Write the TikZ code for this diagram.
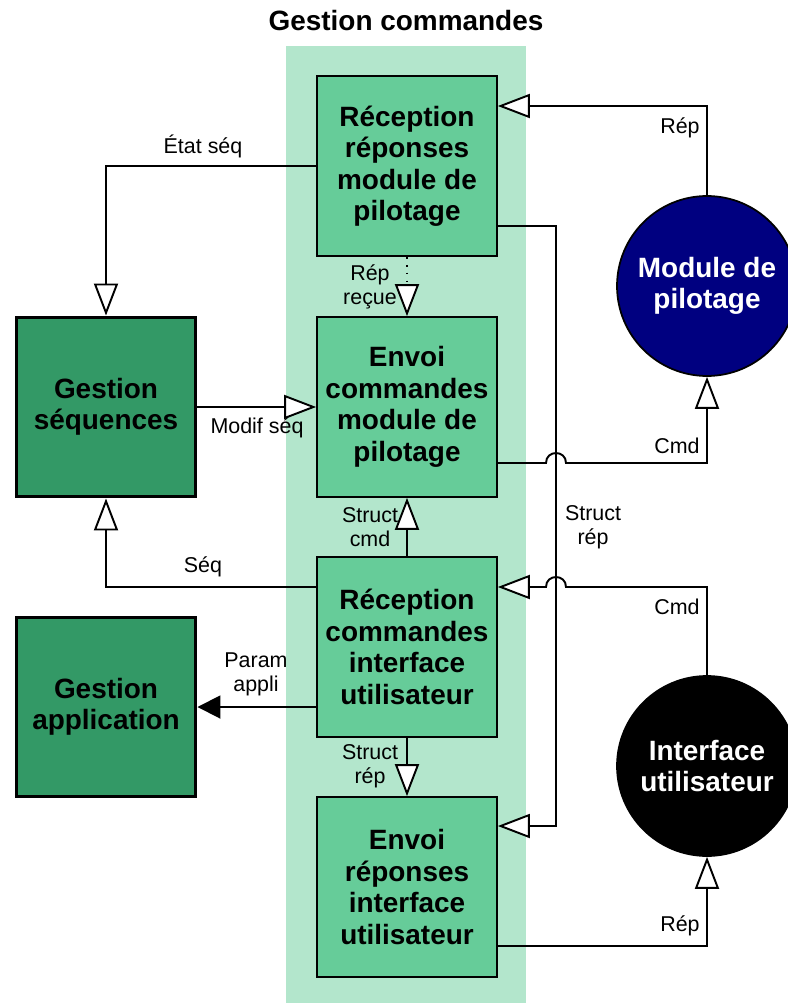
\documentclass[tikz,border=0pt]{standalone}
\usepackage{fontspec}
\setmainfont{Liberation Sans}
\usetikzlibrary{arrows.meta,calc,positioning}
\definecolor{vertfond}{RGB}{179,230,204}
\definecolor{vertbloc}{RGB}{102,204,153}
\definecolor{vertfonce}{RGB}{51,153,102}
\definecolor{marine}{RGB}{0,0,128}

\begin{document}
\begin{tikzpicture}[x=0.02cm,y=-0.02cm,
		bloc/.style={draw=black,line width=1pt,fill=vertbloc,minimum width=3.6cm,minimum height=3.6cm,align=center,inner sep=0pt,font=\bfseries\fontsize{15.9}{17.9}\selectfont},
		gestion/.style={bloc,fill=vertfonce,line width=1.7pt},
		rond/.style={circle,draw=black,line width=1pt,minimum size=3.6cm,align=center,text=white,font=\bfseries\fontsize{15.9}{17.9}\selectfont},
		fleche/.style={line width=1.1pt,-{Triangle[length=0.64cm,width=0.48cm,fill=white]}},
		pleine/.style={line width=1.1pt,-{Triangle[length=0.46cm,width=0.46cm]}},
		lbl/.style={align=center,inner sep=0pt,font=\fontsize{12.2}{13.6}\selectfont}]
		\useasboundingbox (0,0) rectangle (787,1003);
		% bande de fond
		\fill[vertfond] (286,46) rectangle (526,1003);
		\node[font=\bfseries\fontsize{15.9}{18}\selectfont] (titre) at (406,21) {Gestion commandes};
		% blocs
		\node[bloc] (recrep) at (407,166) {Réception\\réponses\\module de\\pilotage};
		\node[bloc] (envcmd) at (407,407) {Envoi\\commandes\\module de\\pilotage};
		\node[bloc] (reccmd) at (407,647) {Réception\\commandes\\interface\\utilisateur};
		\node[bloc] (envrep) at (407,887) {Envoi\\réponses\\interface\\utilisateur};
		\node[gestion] (gseq) at (106,407) {Gestion\\séquences};
		\node[gestion] (gapp) at (106,707) {Gestion\\application};
		\node[rond,fill=marine] (module) at (707,286) {Module de\\pilotage};
		\node[rond,fill=black] (iface) at (707,766) {Interface\\utilisateur};
		% liaisons
		\draw[fleche] (module.north) |- ($(recrep.east)+(0,-60)$);
		\draw[fleche] (recrep.west) -| (gseq.north);
		\draw[fleche,dash pattern=on 1pt off 3.5pt] (recrep.south) -- (envcmd.north);
		\draw[fleche] (gseq.east) -- (envcmd.west);
		\draw[fleche] ($(envcmd.east)+(0,56)$) -- (546,463) .. controls (546,449.7) and (566,449.7) .. (566,463) -| (module.south);
		\draw[fleche] ($(recrep.east)+(0,60)$) -| (556,826) -- ($(envrep.east)+(0,-61)$);
		\draw[fleche] (reccmd.north) -- (envcmd.south);
		\draw[fleche] ($(reccmd.west)+(0,-60)$) -| (gseq.south);
		\draw[fleche] (iface.north) |- (566,587) .. controls (566,573.7) and (546,573.7) .. (546,587) -- ($(reccmd.east)+(0,-60)$);
		\draw[pleine] ($(reccmd.west)+(0,60)$) -- (gapp.east);
		\draw[fleche] (reccmd.south) -- (envrep.north);
		\draw[fleche] ($(envrep.east)+(0,59)$) -| (iface.south);
		% textes des liaisons
		\node[lbl] (l1) at (680,128) {Rép};
		\node[lbl] (l2) at (203,146) {État séq};
		\node[lbl] (l3) at (370,287) {Rép\\reçue};
		\node[lbl] (l4) at (257,428) {Modif séq};
		\node[lbl] (l5) at (677,446) {Cmd};
		\node[lbl] (l6) at (593,527) {Struct\\rép};
		\node[lbl] (l7) at (370,527) {Struct\\cmd};
		\node[lbl] (l8) at (203,567) {Séq};
		\node[lbl] (l9) at (677,607) {Cmd};
		\node[lbl] (l10) at (256,674) {Param\\appli};
		\node[lbl] (l11) at (370,766) {Struct\\rép};
		\node[lbl] (l12) at (680,926) {Rép};
	\end{tikzpicture}
\end{document}
